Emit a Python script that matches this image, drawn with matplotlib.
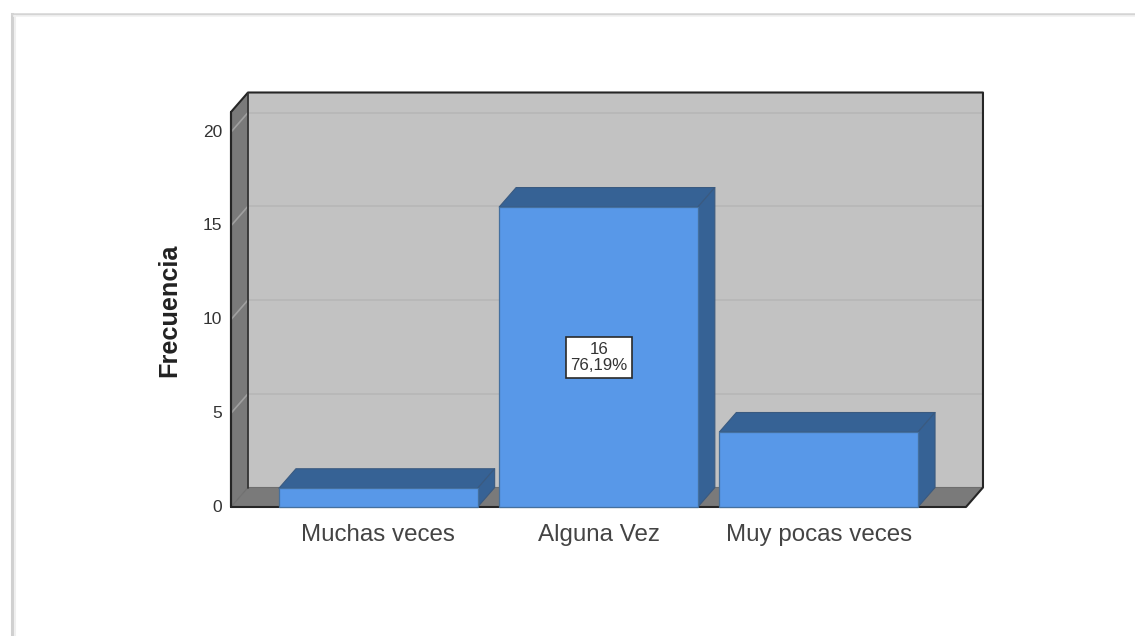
import matplotlib
matplotlib.use("Agg")
import matplotlib.pyplot as plt
from matplotlib.lines import Line2D
from matplotlib.patches import Polygon

plt.rcParams["font.family"] = ["Liberation Sans", "DejaVu Sans"]

categories = ["Muchas veces", "Alguna Vez", "Muy pocas veces"]
frecuencia = [1, 16, 4]
y_ticks = [0, 5, 10, 15, 20]
bar_label = "16\n76,19%"

W, H = 1135, 636
fig = plt.figure(figsize=(W / 100, H / 100), dpi=100, facecolor="white")

# page border, pixels from top left
for xs, ys, col, lw in [
    ([12, 12], [14, H], "#d0d0d0", 2.2),
    ([12, W], [14, 14], "#d4d4d4", 1.8),
    ([14.5, 14.5], [16, H], "#efefef", 1.5),
    ([14, W], [16, 16], "#f1f1f1", 1.2),
]:
    fig.add_artist(Line2D([x / W for x in xs], [1 - y / H for y in ys], color=col, lw=lw))

# front plane of the 3d box
ax = fig.add_axes([231 / W, 1 - 507 / H, 735 / W, 395 / H])
ax.set_xlim(-0.669, 2.669)
ax.set_ylim(0, 21.07)
for s in ax.spines.values():
    s.set_visible(False)
ax.patch.set_visible(False)

# depth of the box in data units
dx = 0.0771
dy = 1.04
x0, x1 = ax.get_xlim()
top = ax.get_ylim()[1]


def poly(pts, face, edge="none", lw=0.0, z=1):
    ax.add_patch(Polygon(pts, closed=True, facecolor=face, edgecolor=edge, lw=lw,
                         clip_on=False, zorder=z, joinstyle="round"))


def line(xs, ys, col, lw, z=2):
    ax.plot(xs, ys, color=col, lw=lw, clip_on=False, zorder=z, solid_capstyle="round")


# walls
poly([(x0 + dx, dy), (x1 + dx, dy), (x1 + dx, top + dy), (x0 + dx, top + dy)], "#c2c2c2")
poly([(x0, 0), (x0 + dx, dy), (x0 + dx, top + dy), (x0, top)], "#7a7a7a")
poly([(x0, 0), (x1, 0), (x1 + dx, dy), (x0 + dx, dy)], "#7a7a7a")

# gridlines
for v in y_ticks[1:]:
    line([x0 + dx, x1 + dx], [v + dy, v + dy], "#b7b7b7", 1.3)
    line([x0, x0 + dx], [v, v + dy], "#a0a0a0", 1.2)

# box outline
line([x0, x0, x0 + dx, x1 + dx, x1 + dx, x1, x0, x0],
     [0, top, top + dy, top + dy, dy, 0, 0, top], "#262626", 1.5, z=3)
line([x0 + dx, x0 + dx], [dy, top + dy], "#333333", 1.3, z=3)
line([x0, x0 + dx, x1 + dx], [0, dy, dy], "#6e6e6e", 0.8, z=2)

# bars
bw = 0.9025
for i, v in enumerate(frecuencia):
    l, r = i - bw / 2, i + bw / 2
    poly([(l, v), (r, v), (r + dx, v + dy), (l + dx, v + dy)], "#366295", "#3a5a80", 0.8, z=4)
    poly([(r, 0), (r + dx, dy), (r + dx, v + dy), (r, v)], "#366295", "#3a5a80", 0.8, z=4)
    ax.bar(i, v, width=bw, color="#5898e8", edgecolor="#44709f", lw=0.9, zorder=5, clip_on=False)

ax.text(1.003, 7.97, bar_label, ha="center", va="center", fontsize=12.2, color="#333333",
        linespacing=1.15, zorder=6,
        bbox=dict(boxstyle="square,pad=0.25", facecolor="white", edgecolor="#2a2a2a", lw=1.2))

ax.set_xticks(range(len(categories)))
ax.set_xticklabels(categories, fontsize=17.4, color="#444444")
ax.set_yticks(y_ticks)
ax.set_yticklabels([str(v) for v in y_ticks], fontsize=12.5, color="#333333", va="center")
ax.tick_params(axis="x", length=0, pad=12)
ax.tick_params(axis="y", length=0, pad=6.5)

fig.text(169 / W, 1 - 310 / H, "Frecuencia", rotation=90, ha="center", va="center",
         fontsize=18.2, fontweight="bold", color="#222222")

fig.savefig("out.png", dpi=100)
